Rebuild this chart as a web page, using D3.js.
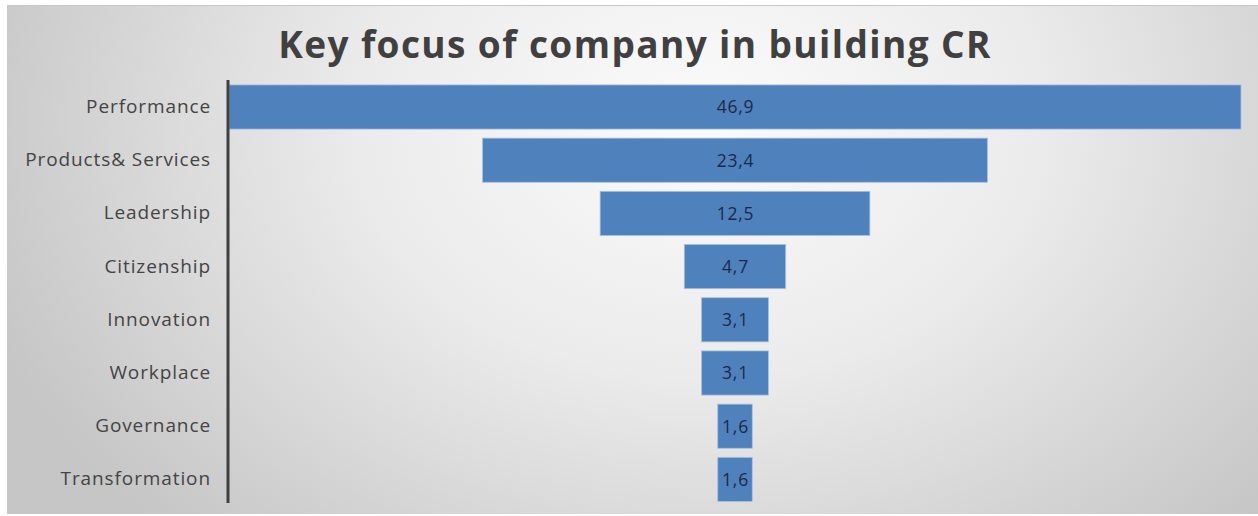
<!DOCTYPE html>
<html>
<head>
<meta charset="utf-8">
<script src="https://cdn.jsdelivr.net/npm/d3@7"></script>
<style>
  html, body { margin: 0; padding: 0; background: #ffffff; }
  svg { display: block; }
</style>
</head>
<body>
<svg id="chart" width="1258" height="516"></svg>
<script>
// Focus areas and their shares (%)
const categories = ["Performance", "Products& Services", "Leadership", "Citizenship",
                    "Innovation", "Workplace", "Governance", "Transformation"];
const values = [46.9, 23.4, 12.5, 4.7, 3.1, 3.1, 1.6, 1.6];
const title = "Key focus of company in building CR";

const data = categories.map((c, i) => ({ category: c, value: values[i] }));
const maxVal = d3.max(values);

const svg = d3.select("#chart");
const W = 1258, H = 516;

// Panel background with a soft radial shading
const defs = svg.append("defs");
const grad = defs.append("radialGradient")
  .attr("id", "bg")
  .attr("gradientUnits", "userSpaceOnUse")
  .attr("cx", 700).attr("cy", 120).attr("r", 760)
  .attr("gradientTransform", "translate(700,120) scale(1,0.75) translate(-700,-120)");
grad.append("stop").attr("offset", "0%").attr("stop-color", "#fbfbfb");
grad.append("stop").attr("offset", "45%").attr("stop-color", "#ebebeb");
grad.append("stop").attr("offset", "100%").attr("stop-color", "#c6c6c6");

svg.append("rect")
  .attr("x", 7).attr("y", 5)
  .attr("width", W - 7).attr("height", 509)
  .attr("fill", "url(#bg)");
svg.append("line")
  .attr("x1", 7).attr("x2", W).attr("y1", 5.5).attr("y2", 5.5)
  .attr("stroke", "#c8c8c8").attr("stroke-width", 1);

// Title
svg.append("text")
  .attr("x", 635).attr("y", 58)
  .attr("text-anchor", "middle")
  .attr("font-family", "'Open Sans', sans-serif")
  .attr("font-weight", 700)
  .attr("font-size", 37)
  .attr("letter-spacing", 1.4)
  .attr("fill", "#404040")
  .text(title);

// Scales: bars are centred on zero so the shape forms a funnel
const x = d3.scaleLinear()
  .domain([-maxVal / 2, maxVal / 2])
  .range([229, 1241]);

const y = d3.scaleBand()
  .domain(categories)
  .range([80.4, 506])
  .paddingInner(0.17)
  .paddingOuter(0.085);

// Bars
svg.append("g")
  .selectAll("rect")
  .data(data)
  .join("rect")
  .attr("x", d => x(-d.value / 2))
  .attr("y", d => y(d.category))
  .attr("width", d => x(d.value / 2) - x(-d.value / 2))
  .attr("height", y.bandwidth())
  .attr("fill", "#4f81bd")
  .attr("stroke", "#a9c1e0")
  .attr("stroke-width", 0.8);

// Value labels (comma decimal separator)
const fmt = v => d3.format(".1f")(v).replace(".", ",");
svg.append("g")
  .selectAll("text")
  .data(data)
  .join("text")
  .attr("x", d => x(0) + 0.5)
  .attr("y", d => y(d.category) + y.bandwidth() / 2)
  .attr("dy", "0.36em")
  .attr("text-anchor", "middle")
  .attr("font-family", "'Open Sans', sans-serif")
  .attr("font-size", 17.5)
  .attr("letter-spacing", 0.8)
  .attr("fill", "#1c2a48")
  .text(d => fmt(d.value));

// Category axis on the left
const axis = d3.axisLeft(y).tickSize(0).tickPadding(17);
const gAxis = svg.append("g")
  .attr("transform", "translate(228,0)")
  .call(axis);
gAxis.select(".domain").remove();
gAxis.selectAll("text")
  .attr("font-family", "'Open Sans', sans-serif")
  .attr("font-size", 19)
  .attr("letter-spacing", 0.9)
  .attr("fill", "#444444");

svg.append("line")
  .attr("x1", 228).attr("x2", 228)
  .attr("y1", 80).attr("y2", 503)
  .attr("stroke", "#404040")
  .attr("stroke-width", 3);
</script>
</body>
</html>
